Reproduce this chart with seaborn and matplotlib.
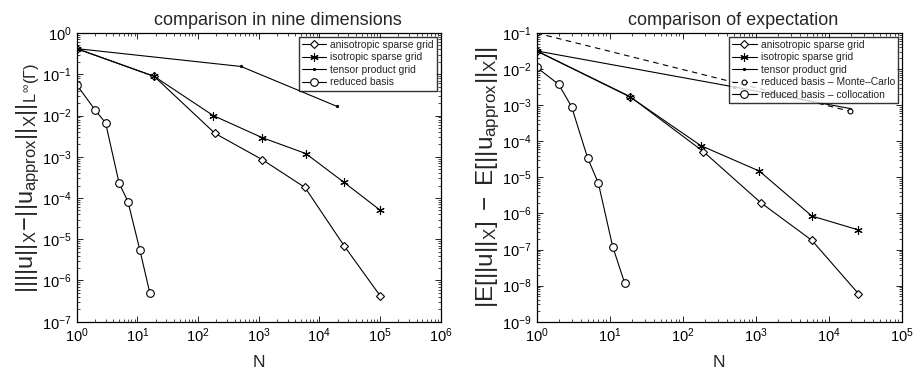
import numpy as np
import pandas as pd
import matplotlib
matplotlib.use("Agg")
import matplotlib.pyplot as plt
import seaborn as sns

# ---- data: left panel (comparison in nine dimensions) ----
aniso_N_L = [1, 19, 190, 1150, 5800, 25500, 100000]
aniso_E_L = [0.42, 0.089, 3.7e-3, 8.5e-4, 1.8e-4, 7.0e-6, 4.3e-7]
iso_N_L = [1, 19, 178, 1150, 5960, 25500, 100000]
iso_E_L = [0.42, 0.089, 1.0e-2, 2.9e-3, 1.2e-3, 2.4e-4, 5.1e-5]
tens_N_L = [1, 512, 19683]
tens_E_L = [0.42, 0.155, 0.0166]
rb_N_L = [1, 2, 3, 5, 7, 11, 16]
rb_E_L = [0.056, 0.0138, 6.6e-3, 2.3e-4, 8.2e-5, 5.5e-6, 5.1e-7]

# ---- data: right panel (comparison of expectation) ----
aniso_N_R = [1, 19, 192, 1170, 5880, 25500]
aniso_E_R = [0.032, 1.74e-3, 5.2e-5, 2.0e-6, 1.8e-7, 6.0e-9]
iso_N_R = [1, 19, 177, 1120, 5880, 25500]
iso_E_R = [0.032, 1.7e-3, 7.6e-5, 1.5e-5, 8.5e-7, 3.5e-7]
tens_N_R = [1, 512, 19683]
tens_E_R = [0.032, 3.2e-3, 8.1e-4]
mc_N_R = [1, 19683]
mc_E_R = [0.1, 6.8e-4]
rbc_N_R = [1, 2, 3, 5, 7, 11, 16]
rbc_E_R = [0.0112, 3.8e-3, 9.2e-4, 3.4e-5, 6.9e-6, 1.2e-7, 1.2e-8]

titles = ["comparison in nine dimensions", "comparison of expectation"]
ylabels = [r"$||||u||_X\!-\!||u_{\mathrm{approx}}||_X||_{L^{\infty}(\Gamma)}$",
           r"$|E[||u||_X]\ -\ E[||u_{\mathrm{approx}}||_X]|$"]

sns.set_style("ticks")
plt.rcParams["font.family"] = ["Liberation Sans", "DejaVu Sans"]
plt.rcParams["mathtext.fontset"] = "custom"
plt.rcParams["mathtext.rm"] = "Liberation Sans"
plt.rcParams["mathtext.it"] = "Liberation Sans"
plt.rcParams["mathtext.cal"] = "Liberation Sans"
plt.rcParams["xtick.direction"] = "in"
plt.rcParams["ytick.direction"] = "in"

fig = plt.figure(figsize=(9.16, 3.76), dpi=100)
axL = fig.add_axes([0.0837, 0.1444, 0.3974, 0.7676])
axR = fig.add_axes([0.5859, 0.1444, 0.3985, 0.7676])

asterisk = (6, 2, 0)
lw = 0.8

def draw(ax, N, E, label, marker, ms, ls="-", mew=0.8):
    df = pd.DataFrame({"N": N, "E": E})
    sns.lineplot(data=df, x="N", y="E", ax=ax, color="black", lw=lw,
                 linestyle=ls, marker=marker, markersize=ms,
                 markerfacecolor="white" if marker not in (".", asterisk) else "black",
                 markeredgecolor="black", markeredgewidth=mew,
                 estimator=None, sort=False, label=label)

draw(axL, aniso_N_L, aniso_E_L, "anisotropic sparse grid", "D", 4.5)
draw(axL, iso_N_L, iso_E_L, "isotropic sparse grid", asterisk, 6)
draw(axL, tens_N_L, tens_E_L, "tensor product grid", ".", 3)
draw(axL, rb_N_L, rb_E_L, "reduced basis", "o", 5.5)

draw(axR, aniso_N_R, aniso_E_R, "anisotropic sparse grid", "D", 4.5)
draw(axR, iso_N_R, iso_E_R, "isotropic sparse grid", asterisk, 6)
draw(axR, tens_N_R, tens_E_R, "tensor product grid", ".", 3)
draw(axR, mc_N_R, mc_E_R, "reduced basis \u2013 Monte\u2013Carlo", "o", 3.5, ls=(0, (5, 4)))
draw(axR, rbc_N_R, rbc_E_R, "reduced basis \u2013 collocation", "o", 5.5)

limits = [((1, 1e6), (1e-7, 1)), ((1, 1e5), (1e-9, 1e-1))]
ylab_sizes = [17, 17.5]
title_x = [0.553, 0.538]
for ax, (xl, yl), t, yla, ys, tx in zip([axL, axR], limits, titles, ylabels, ylab_sizes, title_x):
    ax.set_xscale("log")
    ax.set_yscale("log")
    ax.set_xlim(*xl)
    ax.set_ylim(*yl)
    ax.set_xticks([10.0 ** k for k in range(int(np.log10(xl[0])), int(np.log10(xl[1])) + 1)])
    ax.set_yticks([10.0 ** k for k in range(int(round(np.log10(yl[0]))), int(round(np.log10(yl[1]))) + 1)])
    ax.tick_params(which="both", top=True, right=True, direction="in", labelsize=10.5, colors="black")
    ax.tick_params(which="major", length=4, width=0.6)
    ax.tick_params(which="minor", length=2, width=0.5)
    for s in ax.spines.values():
        s.set_visible(True)
        s.set_linewidth(0.9)
        s.set_color("black")
    ax.set_title(t, fontsize=13, pad=6, x=tx)
    ax.set_xlabel("N", fontsize=12.5, labelpad=7)
    ax.set_ylabel(yla, fontsize=ys, labelpad=0)
    leg = ax.legend(loc="upper right", fontsize=7.4, frameon=True, fancybox=False,
                    edgecolor="black", borderpad=0.3, labelspacing=0.25,
                    handlelength=2.4, handletextpad=0.4, borderaxespad=0.35)
    leg.get_frame().set_linewidth(1.0)

fig.savefig("out.png", dpi=100)
